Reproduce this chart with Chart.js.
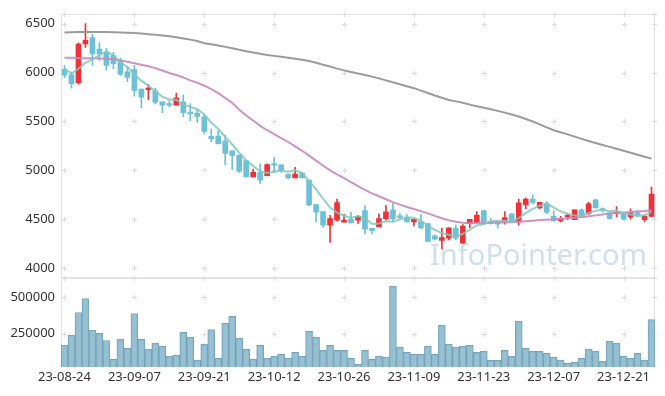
<!DOCTYPE html>
<html>
<head>
<meta charset="utf-8">
<script src="https://cdn.jsdelivr.net/npm/chart.js@4.4.0/dist/chart.umd.min.js"></script>
<style>
html, body { margin: 0; padding: 0; background: #fff; }
#wrap { position: relative; width: 665px; height: 396px; }
canvas { position: absolute; left: 0; top: 0; }
</style>
</head>
<body>
<div id="wrap">
  <canvas id="price" width="665" height="396"></canvas>
  <canvas id="volume" width="665" height="396"></canvas>
</div>
<script>
'use strict';

// trading days shown on the chart
var dates = ['23-08-24','23-08-25','23-08-28','23-08-29','23-08-30','23-08-31',
  '23-09-01','23-09-04','23-09-05','23-09-06','23-09-07','23-09-08','23-09-11','23-09-12','23-09-13','23-09-14','23-09-15','23-09-18','23-09-19','23-09-20','23-09-21','23-09-22','23-09-25','23-09-26','23-09-27',
  '23-10-04','23-10-05','23-10-06','23-10-10','23-10-11','23-10-12','23-10-13','23-10-16','23-10-17','23-10-18','23-10-19','23-10-20','23-10-23','23-10-24','23-10-25','23-10-26','23-10-27','23-10-30','23-10-31',
  '23-11-01','23-11-02','23-11-03','23-11-06','23-11-07','23-11-08','23-11-09','23-11-10','23-11-13','23-11-14','23-11-15','23-11-16','23-11-17','23-11-20','23-11-21','23-11-22','23-11-23','23-11-24','23-11-27','23-11-28','23-11-29','23-11-30',
  '23-12-01','23-12-04','23-12-05','23-12-06','23-12-07','23-12-08','23-12-11','23-12-12','23-12-13','23-12-14','23-12-15','23-12-18','23-12-19','23-12-20','23-12-21','23-12-22','23-12-26','23-12-27','23-12-28'];

var openP = [6033,5980,5897,6293,6357,6240,6207,6173,6113,6007,
  6030,5830,5825,5813,5700,5670,5667,5700,5587,5583,
  5547,5347,5350,5300,5200,5157,5100,4933,4980,4947,
  5060,5057,4957,4923,4973,4900,4650,4580,4440,4490,
  4470,4500,4490,4590,4407,4423,4507,4597,4527,4523,
  4473,4473,4457,4330,4283,4307,4407,4257,4457,4467,
  4590,4480,4473,4467,4557,4473,4650,4707,4617,4663,
  4530,4483,4523,4497,4597,4560,4700,4600,4563,4557,
  4550,4523,4567,4497,4530];

var highP = [6073,6007,6303,6500,6390,6307,6247,6207,6147,6057,
  6073,5830,5880,5840,5700,5710,5790,5773,5683,5623,
  5567,5423,5407,5357,5200,5157,5100,5013,5067,5067,
  5133,5057,4967,5030,4983,4900,4650,4580,4540,4707,
  4550,4573,4540,4640,4407,4557,4640,4663,4560,4547,
  4500,4547,4457,4340,4407,4413,4440,4447,4500,4580,
  4590,4507,4480,4580,4557,4707,4720,4750,4673,4683,
  4590,4530,4557,4597,4607,4673,4707,4617,4563,4630,
  4563,4607,4590,4540,4830];

var lowP = [5947,5840,5880,6257,6073,6123,6023,6040,5967,5907,
  5757,5640,5723,5680,5590,5650,5667,5547,5507,5490,
  5373,5290,5267,5057,5007,4980,4933,4933,4867,4943,
  4980,4980,4913,4923,4923,4640,4473,4417,4263,4480,
  4470,4463,4457,4350,4350,4423,4490,4473,4500,4473,
  4433,4407,4273,4290,4197,4290,4290,4257,4413,4467,
  4467,4450,4413,4450,4473,4440,4607,4657,4607,4557,
  4483,4473,4497,4497,4523,4550,4617,4573,4500,4523,
  4493,4500,4523,4473,4523];

var closeP = [5973,5887,6290,6330,6190,6190,6073,6090,5983,5950,
  5817,5747,5835,5697,5667,5667,5740,5590,5580,5550,
  5397,5323,5273,5173,5153,4990,4933,4980,4900,5060,
  5053,5000,4923,4963,4923,4650,4573,4440,4507,4670,
  4490,4463,4530,4400,4383,4507,4577,4507,4520,4473,
  4500,4413,4273,4297,4313,4413,4307,4430,4500,4540,
  4467,4457,4450,4517,4473,4667,4707,4673,4673,4573,
  4483,4507,4540,4597,4530,4657,4617,4593,4507,4573,
  4500,4567,4533,4533,4757];

var volumes = [172000,240000,395000,490000,275000,252000,204000,77000,213000,150000,
  388000,211000,145000,184000,166000,97000,104000,259000,227000,70000,
  179000,279000,82000,320000,368000,220000,145000,77000,170000,84000,
  97000,109000,84000,123000,97000,266000,227000,136000,170000,136000,
  136000,82000,41000,136000,75000,97000,91000,574000,159000,123000,
  109000,109000,166000,109000,309000,177000,159000,166000,170000,123000,
  130000,68000,68000,136000,97000,336000,150000,130000,130000,116000,
  91000,70000,48000,54000,82000,145000,130000,61000,200000,186000,
  97000,82000,116000,70000,347000];

var ma5 = [6040,5990,6040,6100,6134,6177,6215,6175,6105,6057,
  5983,5917,5866,5809,5753,5723,5721,5672,5649,5625,
  5571,5488,5425,5343,5264,5182,5104,5046,4991,4973,
  4985,4999,4987,5000,4972,4892,4806,4710,4619,4568,
  4536,4514,4532,4511,4453,4457,4479,4475,4499,4517,
  4515,4483,4436,4391,4359,4342,4321,4352,4393,4438,
  4449,4479,4483,4486,4473,4513,4563,4607,4639,4659,
  4622,4582,4555,4540,4531,4566,4588,4599,4581,4589,
  4558,4548,4536,4541,4578];

var ma20 = [6150,6150,6148,6146,6145,6143,6140,6135,6125,6110,
  6095,6080,6065,6045,6020,5995,5975,5950,5920,5895,
  5865,5830,5790,5740,5690,5620,5560,5510,5455,5410,
  5370,5330,5290,5245,5200,5150,5100,5050,5000,4960,
  4920,4880,4840,4800,4765,4735,4705,4675,4650,4625,
  4605,4583,4560,4535,4510,4490,4475,4465,4460,4460,
  4462,4464,4466,4468,4470,4474,4480,4486,4492,4496,
  4500,4505,4510,4515,4520,4530,4540,4550,4558,4565,
  4570,4575,4580,4585,4592];

var ma60 = [6410,6412,6414,6415,6415,6415,6414,6412,6410,6407,
  6404,6398,6392,6385,6378,6370,6360,6348,6336,6322,
  6300,6288,6276,6262,6248,6232,6218,6205,6192,6180,
  6170,6160,6150,6140,6130,6118,6100,6080,6062,6040,
  6022,6005,5990,5975,5958,5940,5920,5900,5880,5860,
  5840,5815,5790,5765,5742,5720,5705,5690,5672,5655,
  5640,5625,5608,5590,5570,5550,5525,5500,5470,5440,
  5410,5390,5368,5345,5322,5300,5280,5260,5240,5220,
  5200,5180,5160,5140,5120];

var priceTicks = [4000, 4500, 5000, 5500, 6000, 6500];
var volumeTicks = [250000, 500000];

var UP = '#ee3239';
var DOWN = '#6cc1d9';
var FONT = '"Noto Sans", "DejaVu Sans", sans-serif';

var candleColors = closeP.map(function (c, i) { return c >= openP[i] ? UP : DOWN; });
var bodies = openP.map(function (o, i) { return [o, closeP[i]]; });
var wicks = lowP.map(function (l, i) { return [l, highP[i]]; });

// light frame and "+" marks where grid lines would cross
var framePlugin = {
  id: 'frame',
  beforeDatasetsDraw: function (chart, args, opts) {
    var ctx = chart.ctx, a = chart.chartArea;
    var xs = chart.scales.x, ys = chart.scales.y;
    var L = Math.round(a.left) + 0.5, R = Math.round(a.right) - 0.5;
    var T = Math.round(a.top) + 0.5, B = Math.round(a.bottom) - 0.5;
    ctx.save();
    ctx.strokeStyle = '#e4e4e4';
    ctx.lineWidth = 1;
    ctx.beginPath();
    ctx.moveTo(L, B); ctx.lineTo(L, T); ctx.lineTo(R, T); ctx.lineTo(R, B);
    if (opts.bottom) { ctx.moveTo(L, B); ctx.lineTo(R, B); }
    ctx.stroke();

    var px = [];
    for (var i = 0; i < dates.length; i += 10) px.push(Math.round(xs.getPixelForValue(i)) + 0.5);
    px.push(R);
    var py = opts.ticks.map(function (v) { return Math.round(ys.getPixelForValue(v)) + 0.5; });
    py.push(T);
    ctx.strokeStyle = '#dcdcdc';
    ctx.beginPath();
    px.forEach(function (x) {
      py.forEach(function (y) {
        ctx.moveTo(x - 2.5, y); ctx.lineTo(x + 2.5, y);
        ctx.moveTo(x, y - 2.5); ctx.lineTo(x, y + 2.5);
      });
    });
    ctx.stroke();

    if (opts.watermark) {
      ctx.font = '35px ' + FONT;
      var w = ctx.measureText(opts.watermark).width;
      var size = 35 * 217 / w;
      ctx.font = size + 'px ' + FONT;
      ctx.fillStyle = '#d0e0ea';
      ctx.textBaseline = 'alphabetic';
      ctx.textAlign = 'left';
      ctx.fillText(opts.watermark, 430, 265);
    }
    ctx.restore();
  }
};

function fixedWidth(scale) { scale.width = 61; }

new Chart(document.getElementById('price'), {
  type: 'bar',
  data: {
    labels: dates,
    datasets: [
      { type: 'line', label: 'MA5', data: ma5, borderColor: 'rgba(130,200,185,0.85)', borderWidth: 2, pointRadius: 0, order: 0 },
      { type: 'line', label: 'MA20', data: ma20, borderColor: 'rgba(200,135,195,0.9)', borderWidth: 2, pointRadius: 0, order: 0 },
      { type: 'line', label: 'MA60', data: ma60, borderColor: 'rgba(150,150,150,0.95)', borderWidth: 2, pointRadius: 0, order: 0 },
      { label: 'body', data: bodies, backgroundColor: candleColors, barThickness: 5, minBarLength: 1.5, grouped: false, order: 1 },
      { label: 'wick', data: wicks, backgroundColor: candleColors, barThickness: 1, grouped: false, order: 2 }
    ]
  },
  options: {
    responsive: false,
    animation: false,
    layout: { padding: { top: 10, bottom: 118, left: 0, right: 10 } },
    plugins: {
      legend: { display: false },
      tooltip: { enabled: false },
      frame: { ticks: priceTicks, watermark: 'InfoPointer.com', bottom: true }
    },
    scales: {
      x: { display: false, offset: true },
      y: {
        min: 3900, max: 6600,
        afterBuildTicks: function (s) { s.ticks = priceTicks.map(function (v) { return { value: v }; }); },
        afterFit: fixedWidth,
        grid: { display: false, drawTicks: false },
        border: { display: false },
        ticks: { padding: 6, color: '#333', font: { family: FONT, size: 13 }, callback: function (v) { return String(v); } }
      }
    }
  },
  plugins: [framePlugin]
});

new Chart(document.getElementById('volume'), {
  type: 'bar',
  data: {
    labels: dates,
    datasets: [
      { label: 'volume', data: volumes, backgroundColor: 'rgba(140,185,205,0.9)', borderColor: 'rgba(105,155,180,0.9)', borderWidth: 1, categoryPercentage: 1, barPercentage: 1 }
    ]
  },
  options: {
    responsive: false,
    animation: false,
    layout: { padding: { top: 278, bottom: 0, left: 0, right: 10 } },
    plugins: {
      legend: { display: false },
      tooltip: { enabled: false },
      frame: { ticks: volumeTicks, bottom: false }
    },
    scales: {
      x: {
        offset: true,
        afterFit: function (s) { s.height = 29; },
        grid: { display: false, drawTicks: false },
        border: { display: false },
        ticks: {
          autoSkip: false, maxRotation: 0, padding: 2, color: '#333',
          font: { family: FONT, size: 13 },
          callback: function (v, i) { return i % 10 === 0 ? dates[i] : ''; }
        }
      },
      y: {
        min: 23000, max: 630000,
        afterBuildTicks: function (s) { s.ticks = volumeTicks.map(function (v) { return { value: v }; }); },
        afterFit: fixedWidth,
        grid: { display: false, drawTicks: false },
        border: { display: false },
        ticks: { padding: 6, color: '#333', font: { family: FONT, size: 13 }, callback: function (v) { return String(v); } }
      }
    }
  },
  plugins: [framePlugin]
});
</script>
</body>
</html>
